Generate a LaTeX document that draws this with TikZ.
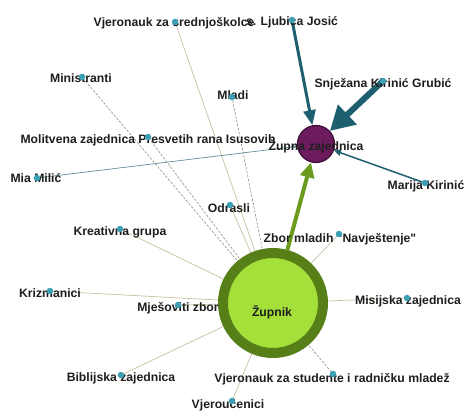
\documentclass[tikz,border=0pt]{standalone}
\usepackage{fontspec}
\setmainfont{Liberation Sans}
\newfontfamily\plainq{Liberation Sans}
\usetikzlibrary{arrows.meta,backgrounds}
\pgfdeclarelayer{bottom}
\pgfsetlayers{bottom,background,main}
\definecolor{teal1}{HTML}{1D5F6E}
\definecolor{dotc}{HTML}{3C9FB4}
\definecolor{purp}{HTML}{6D1B5F}
\definecolor{purpd}{HTML}{3B0D33}
\definecolor{olive1}{HTML}{6A9A1E}
\definecolor{ring}{HTML}{567F18}
\definecolor{lgreen}{HTML}{A5E03A}
\definecolor{tan1}{HTML}{C9C1A2}
\definecolor{gry}{HTML}{8E8E88}
\definecolor{txt}{HTML}{1E1E1E}
\begin{document}
\begin{tikzpicture}[x=1pt,y=-1pt,
  lbl/.style={font=\bfseries\fontsize{12.2}{13}\selectfont, text=txt, inner sep=0pt, anchor=center},
  dot/.style={circle, fill=dotc, inner sep=0pt, minimum size=6.5pt},
  tanline/.style={draw=tan1, line width=0.7pt},
  dashline/.style={draw=gry, line width=0.6pt, dash pattern=on 2.5pt off 1.5pt}
]
\begin{pgfonlayer}{bottom}
\fill[white] (0,0) rectangle (464,412);
\end{pgfonlayer}
\useasboundingbox (0,0) rectangle (464,412);
% main nodes
\node[circle, draw=ring, fill=lgreen, line width=10pt, minimum size=100pt, inner sep=0pt] (zp) at (273,303) {};
\node[circle, draw=purpd, fill=purp, line width=1.2pt, minimum size=37pt, inner sep=0pt] (zz) at (316,144) {};
% labels
\node[lbl] (Lzp) at (272,312) {Župnik};
\node[lbl] (Lzz) at (316,146) {Župna zajednica};
\node[lbl] (Lvs) at (174,23) {Vjeronauk za srednjoškolce};
\node[lbl] (Llj) at (292,22) {s. Ljubica Josić};
\node[lbl] (Lsn) at (383,84) {Snježana Kirinić Grubić};
\node[lbl] (Lmk) at (426,186) {Marija Kirinić};
\node[lbl] (Lmi) at (81,78) {Ministranti};
\node[lbl] (Lml) at (233,95) {Mladi};
\node[lbl] (Lmo) at (148,140) {Molitvena zajednica Presvetih rana Isusovih};
\node[lbl] (Lmm) at (36,178) {Mia Milić};
\node[lbl] (Lod) at (229,208) {Odrasli};
\node[lbl] (Lkg) at (120,232) {Kreativna grupa};
\node[lbl] (Lzm) at (340,239) {\plainq\bfseries Zbor mladih "Navještenje"};
\node[lbl] (Lkr) at (50,293) {Krizmanici};
\node[lbl] (Lmz) at (178,308) {Mješoviti zbor};
\node[lbl] (Lmis) at (408,301) {Misijska zajednica};
\node[lbl] (Lbz) at (121,378) {Biblijska zajednica};
\node[lbl] (Lvst) at (332,379) {Vjeronauk za studente i radničku mladež};
\node[lbl] (Lvu) at (228,405) {Vjeroučenici};
% dots
\node[dot] (vs) at (175,22) {};
\node[dot] (lj) at (292,20) {};
\node[dot] (sn) at (383,81) {};
\node[dot] (mk) at (425,183) {};
\node[dot] (mi) at (82,77) {};
\node[dot] (ml) at (232,97) {};
\node[dot] (mo) at (148,137) {};
\node[dot] (mm) at (37,178) {};
\node[dot] (od) at (230,205) {};
\node[dot] (kg) at (120,229) {};
\node[dot] (zm) at (339,234) {};
\node[dot] (kr) at (50,291) {};
\node[dot] (mz) at (178,305) {};
\node[dot] (mis) at (407,298) {};
\node[dot] (bz) at (121,375) {};
\node[dot] (vst) at (333,374) {};
\node[dot] (vu) at (232,401) {};
% edges
\begin{pgfonlayer}{background}
\draw[tanline] (zp.center) -- (vs.center);
\draw[dashline] (zp.center) -- (mi.center);
\draw[dashline] (zp.center) -- (mo.center);
\draw[dashline] (zp.center) -- (ml.center);
\draw[tanline] (zp.center) -- (od.center);
\draw[tanline] (zp.center) -- (kg.center);
\draw[tanline] (zp.center) -- (kr.center);
\draw[tanline] (zp.center) -- (mz.center);
\draw[tanline] (zp.center) -- (bz.center);
\draw[tanline] (zp.center) -- (vu.center);
\draw[dashline] (zp.center) -- (vst.center);
\draw[tanline] (zp.center) -- (mis.center);
\draw[tanline] (zp.center) -- (zm.center);
\draw[draw=teal1!70, line width=0.7pt, -{Triangle[length=5pt,width=4pt]}] (mm.center) -- (zz);
\draw[draw=teal1, line width=1.5pt, -{Triangle[length=7pt,width=6pt]}] (mk.center) -- (zz);
\draw[draw=teal1, line width=3pt, -{Triangle[length=15pt,width=12pt]}] (lj.center) -- (zz);
\draw[draw=teal1, line width=6pt, -{Triangle[length=24pt,width=26pt]}] (sn.center) -- (zz);
\draw[draw=olive1, line width=4pt, -{Triangle[length=15pt,width=14pt]}] (zp) -- (zz);
\end{pgfonlayer}
\end{tikzpicture}
\end{document}
